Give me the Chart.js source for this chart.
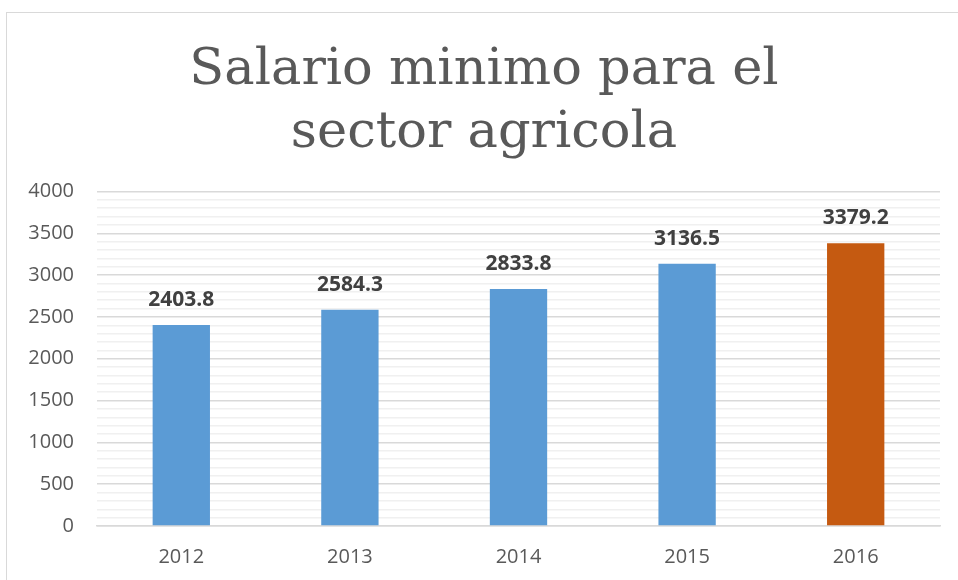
<!DOCTYPE html>
<html>
<head>
<meta charset="utf-8">
<script src="https://cdn.jsdelivr.net/npm/chart.js@4"></script>
<style>
    html, body { margin: 0; padding: 0; background: #fff; overflow: hidden; }
    #frame {
        position: absolute; left: 6px; top: 12px;
        width: 1000px; height: 700px;
        border: 1px solid #d9d9d9;
    }
    #wrap { position: absolute; left: 0; top: 0; width: 958px; height: 580px; }
</style>
</head>
<body>
<div id="frame"></div>
<div id="wrap"><canvas id="chart_salario"></canvas></div>
<script>
// datos del grafico
var years = ['2012', '2013', '2014', '2015', '2016'];
var salario = [2403.8, 2584.3, 2833.8, 3136.5, 3379.2];
var barColors = ['#5B9BD5', '#5B9BD5', '#5B9BD5', '#5B9BD5', '#C55A11'];
var yMax = 4000;
var yMajor = 500;
var yMinor = 100;

(function () {
    // etiquetas de valor encima de cada barra
    var valueLabels = {
        id: 'valueLabels',
        afterDatasetsDraw: function (chart) {
            var ctx = chart.ctx;
            var meta = chart.getDatasetMeta(0);
            ctx.save();
            ctx.font = 'bold 21px "Open Sans", sans-serif';
            ctx.fillStyle = '#404040';
            ctx.textAlign = 'center';
            ctx.textBaseline = 'middle';
            meta.data.forEach(function (bar, i) {
                ctx.fillText(String(salario[i]), bar.x, bar.y - 25);
            });
            ctx.restore();
        },
    };

    new Chart(document.getElementById('chart_salario'), {
        type: 'bar',
        data: {
            labels: years,
            datasets: [
                {
                    label: 'Salario minimo',
                    data: salario,
                    backgroundColor: barColors,
                    barPercentage: 0.34,
                    categoryPercentage: 1,
                },
            ],
        },
        options: {
            responsive: true,
            maintainAspectRatio: false,
            animation: false,
            layout: { padding: { left: 28, right: 18, top: 0, bottom: 0 } },
            plugins: {
                legend: { display: false },
                tooltip: { enabled: false },
                title: {
                    display: true,
                    text: ['Salario minimo para el', 'sector agricola'],
                    color: '#595959',
                    font: { family: '"DejaVu Serif", serif', size: 51, weight: 'normal', lineHeight: 1.22 },
                    padding: { top: 40, bottom: 27 },
                },
            },
            scales: {
                x: {
                    grid: { display: false },
                    border: { color: '#d9d9d9', width: 1.5 },
                    ticks: {
                        color: '#595959',
                        padding: 11,
                        font: { family: '"Open Sans", sans-serif', size: 20 },
                    },
                    afterFit: function (scale) {
                        scale.height = 54;
                    },
                },
                y: {
                    min: 0,
                    max: yMax,
                    border: { display: false },
                    grid: {
                        drawTicks: false,
                        color: function (c) {
                            return c.tick && c.tick.value % yMajor === 0 ? '#d9d9d9' : '#f0f0f0';
                        },
                        lineWidth: 1.5,
                    },
                    ticks: {
                        stepSize: yMinor,
                        autoSkip: false,
                        color: '#595959',
                        padding: 23,
                        font: { family: '"Open Sans", sans-serif', size: 20 },
                        callback: function (v) {
                            return v % yMajor === 0 ? String(v) : '';
                        },
                    },
                    afterFit: function (scale) {
                        scale.width = 69;
                    },
                },
            },
        },
        plugins: [valueLabels],
    });
})();
</script>
</body>
</html>
